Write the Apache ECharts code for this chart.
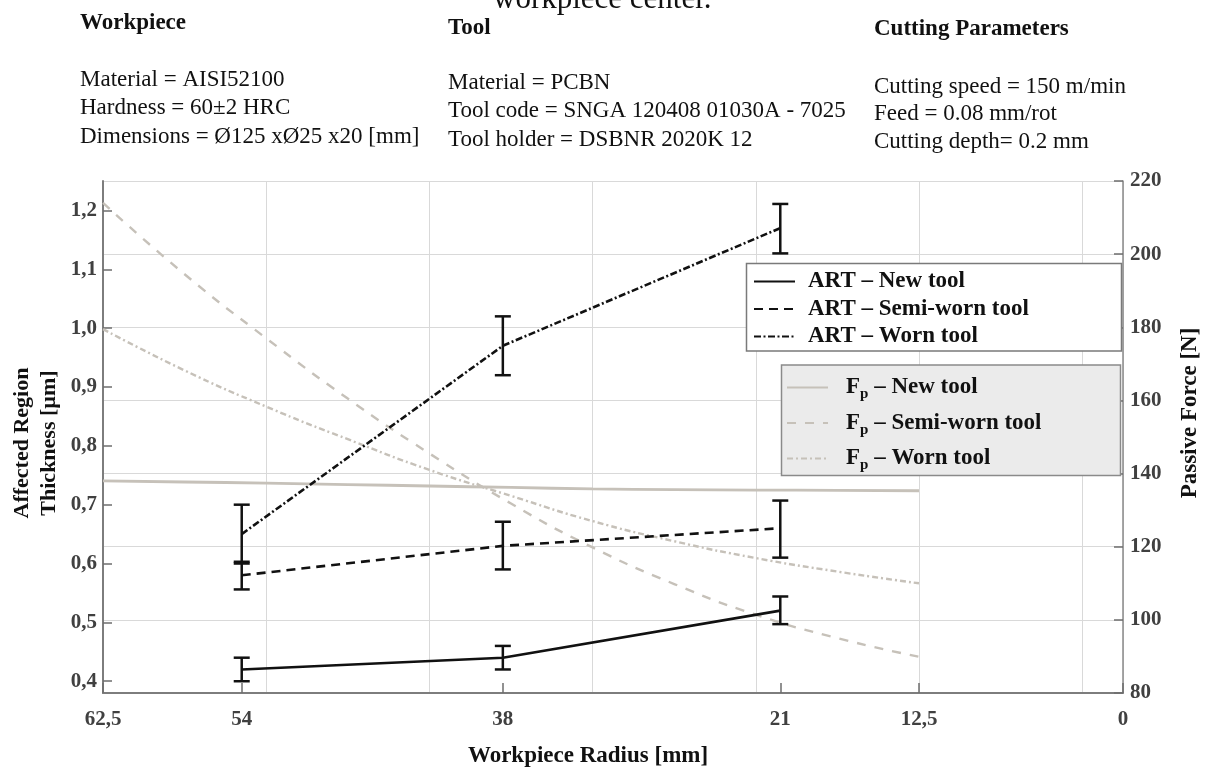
<!DOCTYPE html>
<html>
<head>
<meta charset="utf-8">
<title>ART and passive force vs workpiece radius</title>
<script src="https://cdn.jsdelivr.net/npm/echarts@6/dist/echarts.min.js"></script>
<style>
  html, body { margin: 0; padding: 0; background: #fff; }
  #chart { width: 1207px; height: 767px; }
</style>
</head>
<body>
<div id="chart"></div>
<script>
// tick labels
const radiusTicks = [62.5, 54, 38, 21, 12.5, 0]
const thicknessTicks = [0.4, 0.5, 0.6, 0.7, 0.8, 0.9, 1.0, 1.1, 1.2]

// affected region thickness (µm) measured at three radii
const artRadius = [54, 38, 21]
const artNew = [0.42, 0.44, 0.52]
const artNewLow = [0.40, 0.42, 0.497]
const artNewHigh = [0.44, 0.46, 0.544]
const artSemi = [0.58, 0.63, 0.66]
const artSemiLow = [0.556, 0.59, 0.61]
const artSemiHigh = [0.603, 0.671, 0.707]
const artWorn = [0.65, 0.97, 1.17]
const artWornLow = [0.60, 0.92, 1.127]
const artWornHigh = [0.70, 1.02, 1.211]

// passive force (N) curves
const fpRadius = [62.5, 57.5, 52.5, 47.5, 42.5, 37.5, 32.5, 27.5, 22.5, 17.5, 12.5]
const fpNew = [138.0, 137.7, 137.4, 137.0, 136.6, 136.2, 135.8, 135.6, 135.5, 135.4, 135.3]
const fpSemi = [214, 194.5, 177, 160.5, 145.5, 131.8, 119.8, 109.8, 101.4, 95.0, 89.9]
const fpWorn = [179.5, 168.2, 158.3, 149.4, 141.0, 133.9, 127.0, 121.5, 116.9, 113.2, 110.0]

const SERIF = '"Liberation Serif", "Times New Roman", serif'
const INK = '#111'
const FP_COLOR = '#c6c1b9'

const zip = (xs, ys) => xs.map((x, i) => [x, ys[i]])
const bars = (lo, hi) => artRadius.map((x, i) => [x, lo[i], hi[i]])
const comma = v => String(v).replace('.', ',')

function renderErrorBar(params, api) {
  const x = api.value(0)
  const top = api.coord([x, api.value(2)])
  const bot = api.coord([x, api.value(1)])
  const half = 8
  const style = { stroke: INK, lineWidth: 2.5 }
  return {
    type: 'group',
    children: [
      { type: 'line', shape: { x1: top[0], y1: top[1], x2: bot[0], y2: bot[1] }, style },
      { type: 'line', shape: { x1: top[0] - half, y1: top[1], x2: top[0] + half, y2: top[1] }, style },
      { type: 'line', shape: { x1: bot[0] - half, y1: bot[1], x2: bot[0] + half, y2: bot[1] }, style }
    ]
  }
}

function headerText(text, x, y, bold) {
  return {
    type: 'text',
    x,
    y,
    z: 5,
    style: {
      text,
      font: (bold ? 'bold ' : '') + '23px ' + SERIF,
      fill: INK,
      verticalAlign: 'middle'
    }
  }
}

const chart = echarts.init(document.getElementById('chart'))

chart.setOption({
  animation: false,
  backgroundColor: '#fff',
  grid: { left: 103, right: 84, top: 181, bottom: 74 },
  graphic: [
    {
      type: 'text', x: 493, y: 0, z: 5,
      style: { text: 'workpiece center.', font: '31px ' + SERIF, fill: INK, verticalAlign: 'middle' }
    },
    headerText('Workpiece', 80, 23, true),
    headerText('Material = AISI52100', 80, 80),
    headerText('Hardness = 60±2 HRC', 80, 108),
    headerText('Dimensions = Ø125 xØ25 x20 [mm]', 80, 137),
    headerText('Tool', 448, 28, true),
    headerText('Material = PCBN', 448, 83),
    headerText('Tool code = SNGA 120408 01030A - 7025', 448, 111),
    headerText('Tool holder = DSBNR 2020K 12', 448, 140),
    headerText('Cutting Parameters', 874, 29.5, true),
    headerText('Cutting speed = 150 m/min', 874, 86.5),
    headerText('Feed = 0.08 mm/rot', 874, 114),
    headerText('Cutting depth= 0.2 mm', 874, 141.5),
    {
      type: 'text', x: 36, y: 443, rotation: Math.PI / 2, z: 5,
      style: {
        text: 'Affected Region\nThickness [µm]',
        font: 'bold 22px ' + SERIF, fill: INK,
        align: 'center', verticalAlign: 'middle', lineHeight: 26.5
      }
    },
    {
      type: 'text', x: 1190, y: 413, rotation: Math.PI / 2, z: 5,
      style: {
        text: 'Passive Force [N]',
        font: 'bold 23px ' + SERIF, fill: INK,
        align: 'center', verticalAlign: 'middle'
      }
    },
    {
      type: 'text', x: 588, y: 756, z: 5,
      style: {
        text: 'Workpiece Radius [mm]',
        font: 'bold 23px ' + SERIF, fill: INK,
        align: 'center', verticalAlign: 'middle'
      }
    },
    // legend frames
    {
      type: 'rect', z: 3,
      shape: { x: 746.5, y: 263.5, width: 375, height: 87.5 },
      style: { fill: '#fff', stroke: '#7a7a7a', lineWidth: 1.5 }
    },
    {
      type: 'rect', z: 3,
      shape: { x: 781.5, y: 365, width: 339, height: 110.5 },
      style: { fill: '#ebebeb', stroke: '#8a8a8a', lineWidth: 1.5 }
    }
  ],
  legend: [
    {
      orient: 'vertical',
      left: 753,
      top: 270,
      padding: 0,
      itemGap: 4.5,
      itemWidth: 41,
      itemHeight: 14,
      itemStyle: { opacity: 0 },
      data: ['ART – New tool', 'ART – Semi-worn tool', 'ART – Worn tool'],
      formatter: name => '{a|' + name + '}',
      textStyle: {
        rich: {
          a: {
            fontFamily: SERIF, fontWeight: 'bold', fontSize: 23, color: INK,
            padding: [0, 0, 0, 8]
          }
        }
      }
    },
    {
      orient: 'vertical',
      left: 786,
      top: 373,
      padding: 0,
      itemGap: 6.5,
      itemWidth: 41,
      itemHeight: 14,
      itemStyle: { opacity: 0 },
      data: ['Fp – New tool', 'Fp – Semi-worn tool', 'Fp – Worn tool'],
      formatter: name => '{f|F}{s|p}{t|' + name.slice(2) + '}',
      textStyle: {
        rich: {
          f: {
            fontFamily: SERIF, fontWeight: 'bold', fontSize: 23, color: INK,
            lineHeight: 30, padding: [0, 0, 0, 13]
          },
          s: {
            fontFamily: SERIF, fontWeight: 'bold', fontSize: 15, color: INK,
            lineHeight: 15, padding: [14, 0, 0, 0]
          },
          t: {
            fontFamily: SERIF, fontWeight: 'bold', fontSize: 23, color: INK,
            lineHeight: 30
          }
        }
      }
    }
  ],
  xAxis: [
    {
      type: 'value',
      inverse: true,
      min: 0,
      max: 62.5,
      axisLine: { onZero: false, lineStyle: { color: '#7d7d7d', width: 2 } },
      axisTick: {
        inside: true, length: 10, customValues: radiusTicks,
        lineStyle: { color: '#6d6d6d', width: 1.5 }
      },
      axisLabel: {
        customValues: radiusTicks,
        formatter: comma,
        margin: 16,
        fontFamily: SERIF, fontWeight: 'bold', fontSize: 21, color: '#404040'
      },
      splitLine: { show: false }
    },
    {
      // background grid, every 10 mm from the left edge
      type: 'value',
      position: 'top',
      min: 0,
      max: 62.5,
      interval: 10,
      axisLine: { show: false, onZero: false },
      axisTick: { show: false },
      axisLabel: { show: false },
      splitLine: { show: true, lineStyle: { color: '#d9d9d9', width: 1 } }
    }
  ],
  yAxis: [
    {
      type: 'value',
      min: 0.38,
      max: 1.25,
      axisLine: { show: true, onZero: false, lineStyle: { color: '#7d7d7d', width: 2 } },
      axisTick: {
        show: true, inside: true, length: 9, customValues: thicknessTicks,
        lineStyle: { color: '#6d6d6d', width: 1.5 }
      },
      axisLabel: {
        customValues: thicknessTicks,
        formatter: v => v.toFixed(1).replace('.', ','),
        margin: 6,
        fontFamily: SERIF, fontWeight: 'bold', fontSize: 21, color: '#404040'
      },
      splitLine: { show: false }
    },
    {
      type: 'value',
      position: 'right',
      min: 80,
      max: 220,
      interval: 20,
      axisLine: { show: true, onZero: false, lineStyle: { color: '#8a8a8a', width: 1.5 } },
      axisTick: {
        show: true, inside: true, length: 9,
        lineStyle: { color: '#6d6d6d', width: 1.5 }
      },
      axisLabel: {
        margin: 7,
        padding: [8, 0, 0, 0],
        fontFamily: SERIF, fontWeight: 'bold', fontSize: 21, color: '#404040'
      },
      splitLine: { show: true, lineStyle: { color: '#d9d9d9', width: 1 } }
    }
  ],
  series: [
    {
      name: 'Fp – New tool',
      type: 'line',
      yAxisIndex: 1,
      smooth: true,
      symbol: 'none',
      lineStyle: { color: FP_COLOR, width: 2.8 },
      itemStyle: { color: FP_COLOR },
      data: zip(fpRadius, fpNew)
    },
    {
      name: 'Fp – Semi-worn tool',
      type: 'line',
      yAxisIndex: 1,
      smooth: true,
      symbol: 'none',
      lineStyle: { color: FP_COLOR, width: 2.4, type: [9, 9] },
      itemStyle: { color: FP_COLOR },
      data: zip(fpRadius, fpSemi)
    },
    {
      name: 'Fp – Worn tool',
      type: 'line',
      yAxisIndex: 1,
      smooth: true,
      symbol: 'none',
      lineStyle: { color: FP_COLOR, width: 2.4, type: [6, 3, 2, 3] },
      itemStyle: { color: FP_COLOR },
      data: zip(fpRadius, fpWorn)
    },
    {
      name: 'ART – New tool',
      type: 'line',
      symbol: 'none',
      z: 4,
      lineStyle: { color: INK, width: 2.6 },
      itemStyle: { color: INK },
      data: zip(artRadius, artNew)
    },
    {
      name: 'ART – Semi-worn tool',
      type: 'line',
      symbol: 'none',
      z: 4,
      lineStyle: { color: INK, width: 2.6, type: [9, 6] },
      itemStyle: { color: INK },
      data: zip(artRadius, artSemi)
    },
    {
      name: 'ART – Worn tool',
      type: 'line',
      symbol: 'none',
      z: 4,
      lineStyle: { color: INK, width: 2.6, type: [7, 2.5, 2, 2.5] },
      itemStyle: { color: INK },
      data: zip(artRadius, artWorn)
    },
    {
      type: 'custom',
      z: 4,
      renderItem: renderErrorBar,
      encode: { x: 0, y: [1, 2] },
      data: bars(artNewLow, artNewHigh)
        .concat(bars(artSemiLow, artSemiHigh))
        .concat(bars(artWornLow, artWornHigh))
    }
  ]
})
</script>
</body>
</html>
